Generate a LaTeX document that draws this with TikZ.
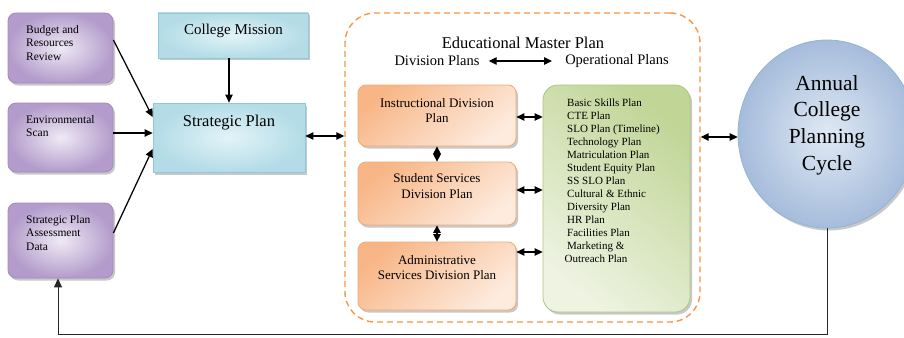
\documentclass[tikz,border=0pt]{standalone}
\usepackage{fontspec}
\setmainfont{Liberation Serif}
\newfontfamily\tnr{Liberation Serif}
\newcommand{\Fz}[2]{\tnr\fontsize{#1}{#2}\selectfont}
\usetikzlibrary{arrows.meta,shadows,shapes.geometric}
\definecolor{pedge}{HTML}{B39CCB}
\definecolor{pmid}{HTML}{EFEAF5}
\definecolor{pline}{HTML}{A28BBD}
\definecolor{cedge}{HTML}{B3DCE7}
\definecolor{cmid}{HTML}{E3F3F7}
\definecolor{cline}{HTML}{8FCADB}
\definecolor{oedge}{HTML}{F8B687}
\definecolor{omid}{HTML}{FDEBDE}
\definecolor{oline}{HTML}{F3A874}
\definecolor{gedge}{HTML}{C0D596}
\definecolor{gmid}{HTML}{EEF3E2}
\definecolor{gline}{HTML}{ADC77F}
\definecolor{bedge}{HTML}{A5BCDB}
\definecolor{bmid}{HTML}{E0E9F4}
\definecolor{bline}{HTML}{95B3D7}
\definecolor{dorange}{HTML}{F79646}
\begin{document}
\begin{tikzpicture}[x=1pt,y=-1pt,
  shad/.style={drop shadow={shadow xshift=2pt,shadow yshift=-2.5pt,opacity=0.3,fill=black!70}},
  pbox/.style={draw=pline, line width=0.8pt, rounded corners=8pt, inner color=pmid, outer color=pedge, shad, inner sep=0pt},
  cbox/.style={draw=cline, line width=0.8pt, inner color=cmid, outer color=cedge, shad, inner sep=0pt},
  obox/.style={draw=oline, line width=0.8pt, rounded corners=8pt, shading=axis, top color=oedge, bottom color=omid, shading angle=40, shad, inner sep=0pt, minimum width=158pt},
  gbox/.style={draw=gline, line width=0.8pt, rounded corners=15pt, shading=axis, top color=gedge, bottom color=gmid, shading angle=-40, shad, inner sep=0pt},
  ptext/.style={font=\Fz{11.5}{13.5}, align=left, inner sep=0pt, anchor=north west},
  otext/.style={font=\Fz{13}{15.2}, align=center, inner sep=0pt},
  arr/.style={-{Triangle[length=8pt,width=7.5pt]}, line width=1.25pt},
  dbl/.style={{Triangle[length=8pt,width=7.5pt]}-{Triangle[length=8pt,width=7.5pt]}, line width=1.25pt},
  vdbl/.style={{Triangle[length=7.5pt,width=7.5pt]}-{Triangle[length=7.5pt,width=7.5pt]}, line width=1.25pt}
]
\useasboundingbox (0,0) rectangle (904,337);
\fill[white] (0,0) rectangle (904,337);
\clip (0,0) rectangle (904,337);

% left purple boxes
\node[pbox, minimum width=105pt, minimum height=70pt] (bud) at (60.5,48) {};
\node[ptext] (tbud) at (26,25.3) {Budget and\\Resources\\Review};
\node[pbox, minimum width=105pt, minimum height=69pt] (env) at (60.5,137.5) {};
\node[ptext] (tenv) at (26,115.3) {Environmental\\Scan};
\node[pbox, minimum width=105pt, minimum height=75pt] (spad) at (60.5,240.5) {};
\node[ptext] (tspad) at (26,215.3) {Strategic Plan\\Assessment\\Data};

% cyan boxes
\node[cbox, minimum width=150pt, minimum height=45pt] (mission) at (233,35.5) {};
\node[inner sep=0pt, font=\Fz{15}{18}] (tmission) at (233.5,31) {College Mission};
\node[cbox, minimum width=152pt, minimum height=69pt] (strat) at (229,137.5) {};
\node[inner sep=0pt, font=\Fz{16.5}{20}] (tstrat) at (229,123) {Strategic Plan};

% educational master plan container
\node[draw=dorange, dash pattern=on 6pt off 4pt, line width=1.4pt, rounded corners=30pt,
      minimum width=355pt, minimum height=309pt, inner sep=0pt] (emp) at (522.5,167.5) {};
\node[inner sep=0pt, font=\Fz{16.5}{20}] (temp) at (523,43) {Educational Master Plan};
\node[inner sep=0pt, font=\Fz{14.5}{17}] (divp) at (437,61) {Division Plans};
\node[inner sep=0pt, font=\Fz{14.5}{17}] (opp) at (617,61) {Operational Plans};

% orange boxes
\node[obox, minimum height=61pt] (inst) at (437,115.5) {};
\node[otext] (tinst) at (437,110.5) {Instructional Division\\Plan};
\node[obox, minimum height=63pt] (stu) at (437,193.5) {};
\node[otext] (tstu) at (437,186) {Student Services\\Division Plan};
\node[obox, minimum height=68pt] (adm) at (437,276) {};
\node[otext] (tadm) at (437,267.5) {Administrative\\Services Division Plan};

% green box
\node[gbox, minimum width=147pt, minimum height=227pt] (green) at (616.5,198.5) {};
\node[ptext, font=\Fz{11}{12.95}] (tgreen) at (567,99) {Basic Skills Plan\\CTE Plan\\SLO Plan (Timeline)\\Technology Plan\\Matriculation Plan\\Student Equity Plan\\SS SLO Plan\\Cultural \& Ethnic\\Diversity Plan\\HR Plan\\Facilities Plan\\Marketing \&\\\hspace*{-2.5pt}Outreach Plan};

% annual cycle ellipse
\node[ellipse, draw=bline, line width=0.8pt, inner color=bmid, outer color=bedge, shad,
      minimum width=178pt, minimum height=188pt, inner sep=0pt] (cyc) at (827,134) {};
\node[inner sep=0pt, align=center, font=\Fz{21.5}{26.6}] (tcyc) at (827,125) {Annual\\College\\Planning\\Cycle};

% connectors
\draw[arr] ([yshift=8pt]bud.east) -- ([yshift=20.5pt]strat.west);
\draw[arr] ([yshift=4.5pt]env.east) -- ([yshift=4.5pt]env.east -| strat.west);
\draw[arr] ([yshift=7.5pt]spad.east) -- ([yshift=-11.5pt]strat.west);
\draw[arr] (strat.north |- mission.south) -- (strat.north);
\draw[dbl] ([yshift=1.5pt]strat.east) -- ([yshift=1.5pt]strat.east -| emp.west);
\draw[dbl] ([xshift=9pt]divp.east) -- ([xshift=-13pt]opp.west);
\draw[dbl] ([yshift=-1.5pt]inst.east) -- ([yshift=-1.5pt]inst.east -| green.west);
\draw[dbl] ([yshift=3.5pt]stu.east) -- ([yshift=3.5pt]stu.east -| green.west);
\draw[dbl] ([yshift=24pt]adm.east) -- ([yshift=24pt]adm.east -| green.west);
\draw[vdbl] (inst.south) -- (stu.north);
\draw[vdbl] (stu.south) -- (adm.north);
\draw[dbl] ([yshift=-3pt]cyc.west -| emp.east) -- ([yshift=-3pt]cyc.west);
\coordinate (fb) at (827,334);
\draw[-{Triangle[length=9pt,width=8pt]}, line width=1pt, black!85] (cyc.south) -- (fb) -| ([xshift=-2.5pt]spad.south);
\end{tikzpicture}
\end{document}
